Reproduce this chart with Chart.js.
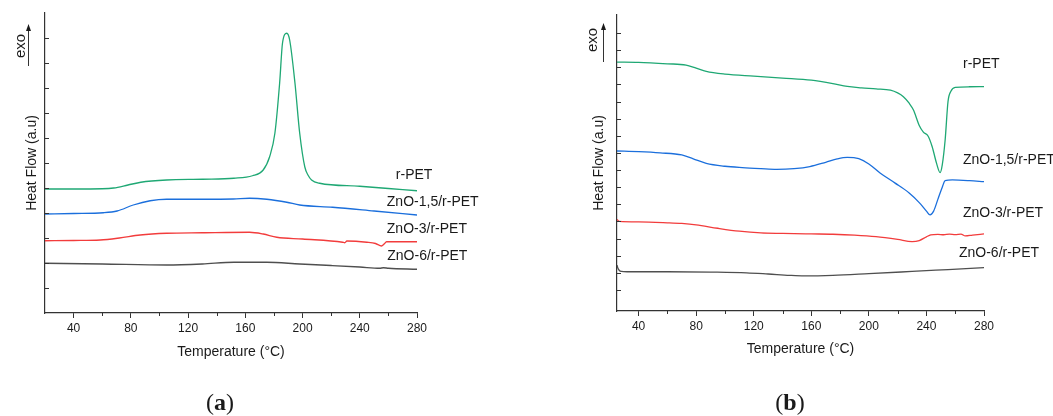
<!DOCTYPE html>
<html lang="en">
<head>
<meta charset="UTF-8">
<title>DSC curves</title>
<script src="https://cdn.jsdelivr.net/npm/chart.js"></script>
<style>
  body { margin: 0; background: #fff; }
  canvas { position: absolute; top: 0; }
  #chartA { left: 0; }
  #chartB { left: 527px; }
</style>
</head>
<body>
<canvas id="chartA" width="527" height="416"></canvas>
<canvas id="chartB" width="526" height="416"></canvas>
<script>
const seriesNames = ['r-PET', 'ZnO-1,5/r-PET', 'ZnO-3/r-PET', 'ZnO-6/r-PET'];
const seriesColors = ['#1fa874', '#1b6fdc', '#f23c3c', '#4f4f4f'];
const xTickLabels = [40, 80, 120, 160, 200, 240, 280];
const xMinorTicks = [60, 100, 140, 180, 220, 260];

// (a) temperature (°C) / heat flow (a.u.)
const aRpetT = [20, 40, 60, 68, 78, 87, 105, 130, 152, 165, 172.5, 177, 180.7, 184, 186, 189, 191, 194.7, 198, 201.6, 204, 206.3, 212, 240, 260, 280];
const aRpetH = [4.96, 4.96, 4.97, 5.0, 5.12, 5.23, 5.32, 5.35, 5.39, 5.49, 5.72, 6.25, 7.2, 9.2, 10.8, 11.19, 10.92, 9.2, 7.2, 5.84, 5.5, 5.32, 5.19, 5.07, 4.98, 4.89];
const aZn15T = [20, 40, 60.8, 70.4, 81.7, 93.5, 105, 130, 151.6, 163, 175, 189, 198, 221, 250, 280];
const aZn15H = [3.96, 3.98, 4.01, 4.08, 4.32, 4.49, 4.55, 4.55, 4.56, 4.59, 4.55, 4.43, 4.32, 4.23, 4.08, 3.92];
const aZn3T = [20, 40, 58.6, 72, 86.5, 105, 130, 163, 172.5, 182, 200, 228, 229.5, 231, 245, 251, 255.2, 257, 258.7, 280];
const aZn3H = [2.89, 2.9, 2.92, 3.0, 3.12, 3.19, 3.21, 3.23, 3.16, 3.03, 2.96, 2.83, 2.81, 2.88, 2.83, 2.78, 2.68, 2.76, 2.85, 2.85];
const aZn6T = [20, 60, 105, 130, 152, 175, 198, 220, 240, 254, 256.5, 260, 280];
const aZn6H = [1.99, 1.96, 1.92, 1.96, 2.03, 2.03, 1.96, 1.9, 1.84, 1.79, 1.81, 1.79, 1.75];

// (b)
const bRpetT = [25, 40, 60, 73, 80, 87, 100, 120, 140, 160, 175, 185, 195, 205, 215, 220, 224, 228, 231, 235, 238, 241, 244, 247, 249.5, 251, 253, 255, 257, 260, 270, 280];
const bRpetH = [14.3, 14.28, 14.2, 14.13, 13.95, 13.76, 13.6, 13.48, 13.37, 13.25, 13.05, 12.88, 12.8, 12.74, 12.66, 12.5, 12.28, 11.9, 11.5, 10.6, 10.2, 10.0, 9.36, 8.4, 7.85, 8.3, 9.75, 12.0, 12.6, 12.83, 12.86, 12.87];
const bZn15T = [25, 40, 55, 70, 78, 87, 100, 112, 125, 136, 148, 159, 170, 178, 185, 193, 200, 208, 218, 228, 235, 240, 242.5, 245, 248, 251, 253, 258, 270, 280];
const bZn15H = [9.11, 9.07, 9.0, 8.88, 8.65, 8.39, 8.22, 8.14, 8.08, 8.04, 8.08, 8.2, 8.45, 8.65, 8.74, 8.66, 8.35, 7.81, 7.25, 6.66, 6.1, 5.6, 5.38, 5.6, 6.3, 7.0, 7.38, 7.42, 7.38, 7.32];
const bZn3T = [25, 26.5, 40, 60, 70, 80, 95, 110, 125, 140, 160, 175, 190, 205, 220, 230, 235, 240, 243, 248, 252, 256, 260, 264, 267, 272, 280];
const bZn3H = [5.12, 5.0, 4.97, 4.92, 4.88, 4.8, 4.6, 4.43, 4.33, 4.3, 4.27, 4.25, 4.2, 4.11, 3.95, 3.82, 3.88, 4.1, 4.21, 4.24, 4.22, 4.26, 4.23, 4.26, 4.15, 4.2, 4.27];
const bZn6T = [25, 25.5, 26.5, 28, 32, 60, 90, 115, 130, 145, 155, 175, 200, 230, 255, 280];
const bZn6H = [2.45, 2.3, 2.15, 2.08, 2.06, 2.06, 2.04, 2.0, 1.93, 1.85, 1.82, 1.85, 1.95, 2.08, 2.19, 2.3];

const FONT = '"Liberation Sans", Arial, sans-serif';
const pts = (T, H) => T.map((t, i) => ({ x: t, y: H[i] }));

const extras = {
  id: 'extras',
  afterDraw(chart, args, o) {
    const { ctx, chartArea, scales: { x, y } } = chart;
    ctx.save();
    ctx.strokeStyle = '#333';
    ctx.lineWidth = 1;
    // short inward ticks on the y axis
    for (let v = o.yTicks[0]; v <= o.yTicks[1]; v++) {
      const py = Math.round(y.getPixelForValue(v)) + 0.5;
      ctx.beginPath(); ctx.moveTo(chartArea.left, py); ctx.lineTo(chartArea.left + 4, py); ctx.stroke();
    }
    // minor ticks on the x axis
    xMinorTicks.forEach(v => {
      const px = Math.round(x.getPixelForValue(v)) + 0.5;
      ctx.beginPath(); ctx.moveTo(px, chartArea.bottom); ctx.lineTo(px, chartArea.bottom + 3); ctx.stroke();
    });
    // curve names
    ctx.fillStyle = '#1a1a1a';
    ctx.font = '14px ' + FONT;
    ctx.textAlign = 'left';
    ctx.textBaseline = 'middle';
    o.labels.forEach((p, i) => ctx.fillText(seriesNames[i], x.getPixelForValue(p[0]), y.getPixelForValue(p[1])));
    // exo arrow
    const ax = o.arrow[0] + 0.5;
    ctx.beginPath(); ctx.moveTo(ax, o.arrow[2]); ctx.lineTo(ax, o.arrow[1] + 5); ctx.stroke();
    ctx.fillStyle = '#1a1a1a';
    ctx.beginPath(); ctx.moveTo(ax, o.arrow[1]); ctx.lineTo(ax - 2.5, o.arrow[1] + 7); ctx.lineTo(ax + 2.5, o.arrow[1] + 7); ctx.closePath(); ctx.fill();
    ctx.save();
    ctx.translate(o.exo[0], o.exo[1]);
    ctx.rotate(-Math.PI / 2);
    ctx.font = '15px ' + FONT;
    ctx.textAlign = 'center';
    ctx.fillText('exo', 0, 0);
    ctx.restore();
    // panel letter
    const serif = '"Liberation Serif", "Times New Roman", serif';
    ctx.textAlign = 'left';
    ctx.textBaseline = 'alphabetic';
    ctx.font = '24px ' + serif;
    const wp = ctx.measureText('(').width, wq = ctx.measureText(')').width;
    ctx.font = 'bold 24px ' + serif;
    const wl = ctx.measureText(o.letter[0]).width;
    let lx = o.letter[1] - (wp + wl + wq) / 2;
    const ly = o.letter[2];
    ctx.font = '24px ' + serif; ctx.fillText('(', lx, ly); lx += wp;
    ctx.font = 'bold 24px ' + serif; ctx.fillText(o.letter[0], lx, ly); lx += wl;
    ctx.font = '24px ' + serif; ctx.fillText(')', lx, ly);
    ctx.restore();
  }
};

function makePanel(id, T, H, cfg) {
  new Chart(document.getElementById(id), {
    type: 'line',
    data: {
      datasets: seriesNames.map((name, i) => ({
        label: name,
        data: pts(T[i], H[i]),
        borderColor: seriesColors[i],
        borderWidth: 1.3,
        pointRadius: 0,
        fill: false,
        cubicInterpolationMode: 'monotone'
      }))
    },
    options: {
      responsive: false,
      animation: false,
      events: [],
      layout: { padding: cfg.padding },
      plugins: { legend: { display: false }, tooltip: { enabled: false }, extras: cfg.extras },
      scales: {
        x: {
          type: 'linear',
          min: cfg.xMin,
          max: 280,
          afterBuildTicks: s => { s.ticks = xTickLabels.map(v => ({ value: v })); },
          afterFit: s => { s.height = cfg.xHeight; },
          border: { color: '#333', width: 1.2 },
          grid: { display: true, drawOnChartArea: false, tickLength: 5, tickColor: '#333', tickWidth: 1 },
          ticks: { color: '#1a1a1a', font: { family: FONT, size: 12 }, padding: 3, maxRotation: 0, autoSkip: false },
          title: { display: true, text: 'Temperature (°C)', color: '#1a1a1a', font: { family: FONT, size: 14 }, padding: { bottom: cfg.xTitlePad } }
        },
        y: {
          type: 'linear',
          min: cfg.yMin,
          max: cfg.yMax,
          afterFit: s => { s.width = cfg.yWidth; },
          border: { color: '#333', width: 1.2 },
          grid: { display: false },
          ticks: { display: false },
          title: { display: true, text: 'Heat Flow (a.u)', color: '#1a1a1a', font: { family: FONT, size: 14 }, padding: { top: cfg.yTitlePad } }
        }
      }
    },
    plugins: [extras]
  });
}

makePanel('chartA',
  [aRpetT, aZn15T, aZn3T, aZn6T],
  [aRpetH, aZn15H, aZn3H, aZn6H],
  {
    padding: { left: 0, top: 13, right: 110, bottom: 0 },
    xMin: 20, yMin: 0, yMax: 12, xHeight: 103, yWidth: 45,
    xTitlePad: 55.6, yTitlePad: 23.6,
    extras: {
      yTicks: [1, 11],
      labels: [[265.2, 5.52], [258.9, 4.44], [258.9, 3.36], [259.2, 2.28]],
      arrow: [28, 24, 66],
      exo: [21, 46],
      letter: ['a', 220, 410]
    }
  });

makePanel('chartB',
  [bRpetT, bZn15T, bZn3T, bZn6T],
  [bRpetH, bZn15H, bZn3H, bZn6H],
  {
    padding: { left: 0, top: 15, right: 69, bottom: 0 },
    xMin: 25, yMin: -0.23, yMax: 17.05, xHeight: 105, yWidth: 90,
    xTitlePad: 58.6, yTitlePad: 63.6,
    extras: {
      yTicks: [1, 16],
      labels: [[265.4, 14.19], [265.4, 8.59], [265.4, 5.5], [262.6, 3.16]],
      arrow: [76, 23, 62],
      exo: [66, 40],
      letter: ['b', 263, 410]
    }
  });
</script>
</body>
</html>
